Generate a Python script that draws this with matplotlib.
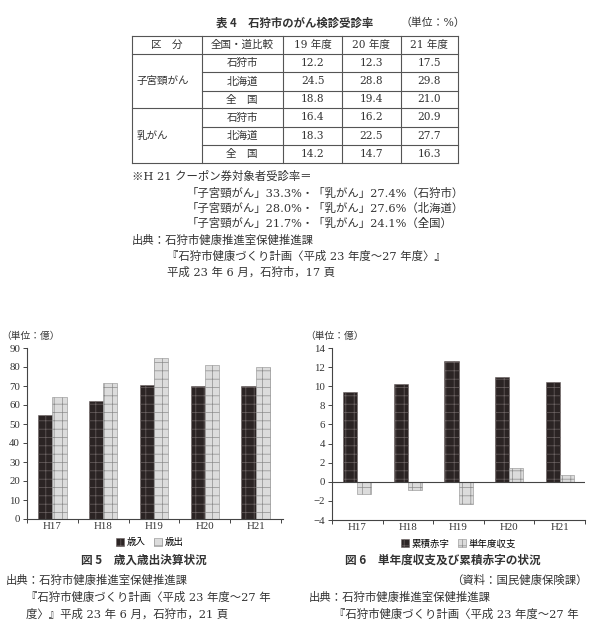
import numpy as np
import matplotlib.pyplot as plt

plt.rcParams['font.family'] = ['Liberation Serif', 'Noto Sans CJK JP']
plt.rcParams['hatch.linewidth'] = 0.5
plt.rcParams['axes.unicode_minus'] = True

W, H = 591, 624

# table 4 data
tbl_head = ['区　分', '全国・道比較', '19 年度', '20 年度', '21 年度']
tbl_groups = ['子宮頸がん', '乳がん']
tbl_areas = ['石狩市', '北海道', '全　国']
cervical = [[12.2, 12.3, 17.5], [24.5, 28.8, 29.8], [18.8, 19.4, 21.0]]
breast = [[16.4, 16.2, 20.9], [18.3, 22.5, 27.7], [14.2, 14.7, 16.3]]

# fig 5 / fig 6 data
years = ['H17', 'H18', 'H19', 'H20', 'H21']
revenue = [54.6, 61.9, 70.7, 69.8, 69.8]
expense = [64.4, 71.8, 84.7, 81.1, 80.0]
deficit = [9.35, 10.2, 12.6, 11.0, 10.4]
balance = [-1.26, -0.84, -2.3, 1.47, 0.73]

SANS = ['Noto Sans CJK JP']
SERIF = ['DejaVu Serif', 'Noto Sans CJK JP']
TXT = '#333333'

fig = plt.figure(figsize=(W / 100, H / 100), dpi=100)

# page layer in pixel coordinates
page = fig.add_axes([0, 0, 1, 1])
page.set_xlim(0, W)
page.set_ylim(H, 0)
page.axis('off')


def txt(x, y, s, size=8.2, ha='left', family=SERIF, weight='normal'):
    page.text(x, y, s, fontsize=size, ha=ha, va='center', family=family,
              weight=weight, color=TXT)


# ---- table 4 ----
txt(295, 23, '表 4　石狩市のがん検診受診率', size=8.2, ha='center', family=SANS, weight='bold')
txt(400, 23, '（単位：%）', size=7.8)

col_x = [131.5, 201.5, 283, 342, 400.5, 458]
row_y = [35.5, 54, 72.3, 90.7, 108.3, 126.7, 145, 162.7]
lc = '#555555'
for i, y in enumerate(row_y):
    x0 = col_x[0] if i in (0, 1, 4, 7) else col_x[1]
    page.plot([x0, col_x[-1]], [y, y], color=lc, lw=0.8)
for x in col_x:
    page.plot([x, x], [row_y[0], row_y[-1]], color=lc, lw=0.8)

for j, h in enumerate(tbl_head):
    txt((col_x[j] + col_x[j + 1]) / 2, (row_y[0] + row_y[1]) / 2, h, size=7.6, ha='center')

for g, (name, vals) in enumerate(zip(tbl_groups, [cervical, breast])):
    r0 = 1 + 3 * g
    txt(col_x[0] + 5, (row_y[r0] + row_y[r0 + 3]) / 2, name, size=7.6)
    for k, area in enumerate(tbl_areas):
        yc = (row_y[r0 + k] + row_y[r0 + k + 1]) / 2
        txt((col_x[1] + col_x[2]) / 2, yc, area, size=7.6, ha='center')
        for c, v in enumerate(vals[k]):
            txt((col_x[2 + c] + col_x[3 + c]) / 2, yc, f'{v:.1f}', size=7.6, ha='center')

notes = [
    (132, 176, '※H 21 クーポン券対象者受診率＝'),
    (187, 193, '「子宮頸がん」33.3%・「乳がん」27.4%（石狩市）'),
    (187, 208, '「子宮頸がん」28.0%・「乳がん」27.6%（北海道）'),
    (187, 223, '「子宮頸がん」21.7%・「乳がん」24.1%（全国）'),
    (132, 240, '出典：石狩市健康推進室保健推進課'),
    (167, 256, '『石狩市健康づくり計画〈平成 23 年度～27 年度〉』'),
    (167, 272, '平成 23 年 6 月，石狩市，17 頁'),
]
for x, y, s in notes:
    txt(x, y, s)

# ---- charts ----
dark = dict(facecolor='#2b2424', edgecolor='#6b6262', hatch='++', linewidth=0.4)
light = dict(facecolor='#dcdcdc', edgecolor='#8c8c8c', hatch='++', linewidth=0.4)
bw = 0.28
x = np.arange(len(years))


def style_axes(ax):
    for s in ['top', 'right']:
        ax.spines[s].set_visible(False)
    for s in ['left', 'bottom']:
        ax.spines[s].set_color('#444444')
        ax.spines[s].set_linewidth(0.8)
    ax.set_xticks(x)
    ax.set_xticklabels(years)
    ax.tick_params(axis='both', labelsize=7.8, colors='#444444', labelcolor=TXT,
                   length=3, width=0.7, pad=2)
    ax.tick_params(axis='x', length=0)
    ax.set_xticks(np.arange(len(years) + 1) - 0.5, minor=True)
    ax.tick_params(axis='x', which='minor', length=3, width=0.7, colors='#444444')


ax1 = fig.add_axes([27 / W, 1 - 519 / H, 256 / W, 171 / H])
ax1.bar(x - bw / 2, revenue, bw, label='歳入', **dark)
ax1.bar(x + bw / 2, expense, bw, label='歳出', **light)
ax1.set_ylim(0, 90)
ax1.set_yticks(np.arange(0, 91, 10))
ax1.set_xlim(-0.5, 4.54)
style_axes(ax1)
ax1.legend(ncol=2, loc='upper center', bbox_to_anchor=(0.48, -0.085), frameon=False,
           fontsize=6.8, handlelength=0.9, handleheight=0.9, handletextpad=0.3,
           columnspacing=0.8, borderpad=0)

ax2 = fig.add_axes([332 / W, 1 - 520 / H, 253 / W, 172 / H])
ax2.bar(x - bw / 2, deficit, bw, label='累積赤字', **dark)
ax2.bar(x + bw / 2, balance, bw, label='単年度収支', **light)
ax2.set_ylim(-4, 14)
ax2.set_yticks(np.arange(-4, 15, 2))
ax2.set_xlim(-0.5, 4.5)
ax2.axhline(0, color='#444444', lw=0.8)
style_axes(ax2)
ax2.legend(ncol=2, loc='upper center', bbox_to_anchor=(0.5, -0.085), frameon=False,
           fontsize=6.8, handlelength=0.9, handleheight=0.9, handletextpad=0.3,
           columnspacing=0.8, borderpad=0)

txt(1, 336, '（単位：億）', size=7)
txt(305, 336, '（単位：億）', size=7)

# ---- captions ----
txt(144, 560, '図 5　歳入歳出決算状況', size=8.4, ha='center', family=SANS, weight='bold')
txt(443, 560, '図 6　単年度収支及び累積赤字の状況', size=8.4, ha='center', family=SANS, weight='bold')

foot = [
    (6, 580, '出典：石狩市健康推進室保健推進課'),
    (26, 597, '『石狩市健康づくり計画〈平成 23 年度～27 年'),
    (26, 614, '度〉』平成 23 年 6 月，石狩市，21 頁'),
    (309, 597, '出典：石狩市健康推進室保健推進課'),
    (334, 614, '『石狩市健康づくり計画〈平成 23 年度～27 年'),
]
for xx, yy, s in foot:
    txt(xx, yy, s)
txt(588, 580, '（資料：国民健康保険課）', ha='right')

fig.savefig('out.png', dpi=100)
